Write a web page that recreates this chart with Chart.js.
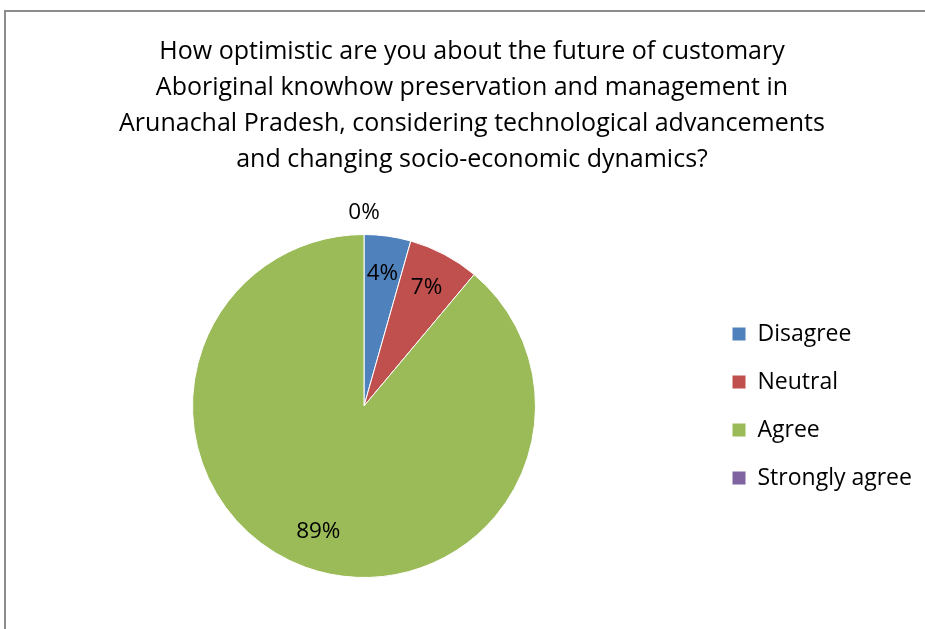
<!DOCTYPE html>
<html>
<head>
<meta charset="utf-8">
<script src="https://cdn.jsdelivr.net/npm/chart.js@4.4.1/dist/chart.umd.min.js"></script>
<style>
  html, body { margin: 0; padding: 0; background: #ffffff; overflow: hidden; }
  #frame { position: absolute; left: 4px; top: 10px; width: 1000px; height: 1000px;
           border-left: 2px solid #8c8c8c; border-top: 2px solid #8c8c8c; box-sizing: border-box; }
  #wrap { position: absolute; left: 0; top: 0; width: 925px; height: 629px; }
</style>
</head>
<body>
<div id="frame"></div>
<div id="wrap"><canvas id="c" width="925" height="629"></canvas></div>
<script>
const titleLines = [
  "How optimistic are you about the future of customary",
  "Aboriginal knowhow preservation and management in",
  "Arunachal Pradesh, considering technological advancements",
  "and changing socio-economic dynamics?"
];
const categories = ["Disagree", "Neutral", "Agree", "Strongly agree"];
const percentValues = [4.4, 6.7, 88.9, 0];
const sliceColors = ["#4F81BD", "#C0504D", "#9BBB59", "#8064A2"];

const FONT = "'Open Sans', sans-serif";

const dataLabels = {
  id: 'dataLabels',
  afterDatasetsDraw(chart) {
    const ctx = chart.ctx;
    const meta = chart.getDatasetMeta(0);
    const vals = chart.data.datasets[0].data;
    ctx.save();
    ctx.font = "22.5px " + FONT;
    ctx.fillStyle = "#000000";
    ctx.textAlign = "center";
    ctx.textBaseline = "middle";
    meta.data.forEach((arc, i) => {
      const p = arc.getProps(['x', 'y', 'startAngle', 'endAngle', 'outerRadius'], true);
      const mid = (p.startAngle + p.endAngle) / 2;
      const r = vals[i] === 0 ? p.outerRadius * 1.13 : p.outerRadius * 0.78;
      const x = p.x + Math.cos(mid) * r;
      const y = p.y + Math.sin(mid) * r;
      ctx.fillText(Math.round(vals[i]) + "%", x, y);
    });
    ctx.restore();
  }
};

const legendWidthFix = {
  id: 'legendWidthFix',
  beforeLayout(chart) {
    const lg = chart.legend;
    if (lg && !lg._widthFixed) {
      const orig = lg.fit.bind(lg);
      lg.fit = function () { orig(); this.width = Math.max(this.width, 216); };
      lg._widthFixed = true;
    }
  }
};

new Chart(document.getElementById('c'), {
  type: 'pie',
  data: {
    labels: categories,
    datasets: [{
      data: percentValues,
      backgroundColor: sliceColors,
      borderColor: "#ffffff",
      borderWidth: 1
    }]
  },
  options: {
    responsive: false,
    animation: false,
    layout: { padding: { left: 21, right: 2, top: 0, bottom: 51 } },
    plugins: {
      title: {
        display: true,
        text: titleLines,
        color: "#000000",
        font: { family: FONT, size: 25, weight: 'normal', lineHeight: 36 / 25 },
        padding: { top: 34, bottom: 56 }
      },
      legend: {
        position: 'right',
        fullSize: false,
        labels: {
          color: "#000000",
          font: { family: FONT, size: 23 },
          boxWidth: 14,
          boxHeight: 14,
          padding: 25
        }
      },
      tooltip: { enabled: false }
    }
  },
  plugins: [dataLabels, legendWidthFix]
});
</script>
</body>
</html>
